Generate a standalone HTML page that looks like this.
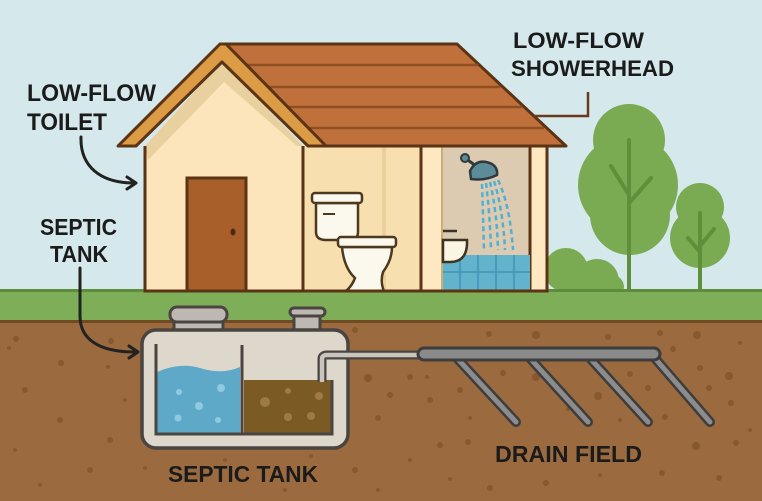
<!DOCTYPE html>
<html><head><meta charset="utf-8"><style>
html,body{margin:0;padding:0;background:#d5e9ec;}
svg{display:block;}
text{font-family:"Liberation Sans",sans-serif;font-weight:bold;fill:#1b1b1b;}
</style></head><body>
<svg width="762" height="501" viewBox="0 0 762 501" xmlns="http://www.w3.org/2000/svg">
<rect x="0" y="0" width="762" height="501" fill="#d5e9ec"/>
<!-- trees -->
<g fill="#7aaa52">
<circle cx="629" cy="140" r="36"/><circle cx="628" cy="185" r="50"/><circle cx="630" cy="215" r="40"/>
<circle cx="700" cy="207" r="24"/><circle cx="700" cy="238" r="30"/>
<circle cx="566" cy="270" r="22"/><circle cx="597" cy="281" r="22"/><circle cx="612" cy="287" r="12"/>
</g>
<g stroke="#5f8f3a" stroke-width="4" stroke-linecap="round" fill="none">
<path d="M629 140 V291 M629 195 L611 166 M629 203 L651 178"/>
<path d="M700 213 V291 M700 252 L688 238 M700 246 L714 229"/>
</g>
<!-- grass & soil -->
<rect x="0" y="290" width="762" height="32" fill="#7eae58"/>
<rect x="0" y="289" width="762" height="3" fill="#5e8c3c"/>
<rect x="0" y="321" width="762" height="180" fill="#9b6b3f"/>
<rect x="0" y="320" width="762" height="3" fill="#6f4a22"/>
<g fill="#86592f">
<circle cx="16" cy="339" r="3"/><circle cx="111" cy="341" r="3"/><circle cx="61" cy="363" r="3"/><circle cx="108" cy="367" r="2"/><circle cx="9" cy="348" r="2"/>
<circle cx="25" cy="390" r="3"/><circle cx="60" cy="420" r="3"/><circle cx="15" cy="450" r="2"/><circle cx="90" cy="470" r="3"/><circle cx="40" cy="485" r="2"/>
<circle cx="125" cy="400" r="2"/><circle cx="110" cy="440" r="3"/><circle cx="145" cy="468" r="2"/><circle cx="355" cy="330" r="3"/><circle cx="368" cy="378" r="4"/>
<circle cx="390" cy="395" r="3"/><circle cx="410" cy="377" r="3"/><circle cx="378" cy="418" r="3"/><circle cx="430" cy="400" r="3"/><circle cx="460" cy="390" r="3"/>
<circle cx="470" cy="418" r="2"/><circle cx="440" cy="445" r="3"/><circle cx="410" cy="460" r="2"/><circle cx="355" cy="470" r="3"/><circle cx="378" cy="490" r="2"/>
<circle cx="336" cy="447" r="3"/><circle cx="311" cy="456" r="2"/><circle cx="489" cy="334" r="3"/><circle cx="536" cy="335" r="4"/><circle cx="608" cy="337" r="3"/>
<circle cx="660" cy="333" r="3"/><circle cx="697" cy="335" r="4"/><circle cx="740" cy="343" r="2"/><circle cx="673" cy="349" r="3"/><circle cx="427" cy="377" r="2"/>
<circle cx="503" cy="373" r="3"/><circle cx="536" cy="377" r="4"/><circle cx="598" cy="396" r="4"/><circle cx="630" cy="374" r="3"/><circle cx="648" cy="388" r="3"/>
<circle cx="700" cy="368" r="3"/><circle cx="729" cy="376" r="4"/><circle cx="709" cy="388" r="3"/><circle cx="731" cy="403" r="3"/><circle cx="665" cy="417" r="3"/>
<circle cx="468" cy="442" r="3"/><circle cx="450" cy="479" r="2"/><circle cx="490" cy="488" r="3"/><circle cx="546" cy="483" r="3"/><circle cx="600" cy="475" r="2"/>
<circle cx="662" cy="473" r="3"/><circle cx="696" cy="446" r="4"/><circle cx="736" cy="443" r="3"/><circle cx="719" cy="478" r="3"/><circle cx="750" cy="430" r="2"/>
<circle cx="568" cy="409" r="2"/><circle cx="620" cy="420" r="2"/><circle cx="225" cy="460" r="2"/><circle cx="285" cy="490" r="2"/>
</g>
<!-- house right section -->
<rect x="303" y="146" width="244" height="145" fill="#f7dfb0"/>
<rect x="382" y="146" width="4" height="145" fill="#ead09c"/>
<rect x="421" y="146" width="22" height="145" fill="#fde8c2"/>
<rect x="443" y="146" width="88" height="145" fill="#dccbb1"/>
<rect x="531" y="146" width="15" height="145" fill="#fde8c2"/>
<rect x="441" y="146" width="2" height="145" fill="#c9ae7c"/>
<g stroke="#5a3415" stroke-width="3" fill="none">
<line x1="421" y1="146" x2="421" y2="291"/><line x1="530" y1="146" x2="530" y2="291"/>
</g>
<!-- tiles -->
<rect x="443" y="255" width="87" height="36" fill="#63b3cd"/>
<g stroke="#3f93b3" stroke-width="1.5">
<line x1="443" y1="272" x2="530" y2="272"/><line x1="460" y1="255" x2="460" y2="291"/><line x1="478" y1="255" x2="478" y2="291"/><line x1="496" y1="255" x2="496" y2="291"/><line x1="514" y1="255" x2="514" y2="291"/>
</g>
<!-- sink -->
<path d="M443 240 H467 Q468 262 450 262 H443 Z" fill="#fbf6e4" stroke="#3e3222" stroke-width="2.5"/>
<path d="M443 231 H457" stroke="#3e3222" stroke-width="2.5"/>
<!-- shower -->
<g stroke="#4fb0d6" stroke-width="2.5" fill="none" stroke-dasharray="5 3.5">
<path d="M482 184 Q483 215 484 250"/><path d="M486 183 Q490 215 491 250"/><path d="M490 182 Q497 212 498 250"/><path d="M494 181 Q503 210 505 250"/><path d="M498 180 Q510 205 513 250"/>
</g>
<line x1="465" y1="158" x2="476" y2="166" stroke="#2f3a3c" stroke-width="3"/>
<circle cx="465" cy="158" r="4" fill="#5c8c99" stroke="#2f3a3c" stroke-width="2"/>
<path d="M470 171 Q477 157 492 164 Q498 168 497 175 Q485 181 471 179 Z" fill="#5c8c99" stroke="#2f3a3c" stroke-width="2.5"/>
<!-- toilet -->
<g fill="#fbf8ee" stroke="#4d3a1e" stroke-width="2.5">
<path d="M316 203 H358 V232 Q358 240 350 240 H326 Q316 240 316 232 Z"/>
<rect x="312" y="193" width="50" height="10" rx="3"/>
<path d="M342 247 Q344 268 355 278 Q352 286 346 291 H384 Q380 282 383 272 Q392 260 392 247 Z"/>
<rect x="338" y="237" width="58" height="10" rx="3"/>
</g>
<line x1="323" y1="214" x2="335" y2="214" stroke="#4d3a1e" stroke-width="2"/>
<!-- roof -->
<path d="M220 44 H457 L566 146 H324 Z" fill="#c0703a" stroke="#5a3415" stroke-width="3" stroke-linejoin="round"/>
<g stroke="#8e4f22" stroke-width="2.5">
<line x1="238" y1="65" x2="478" y2="65"/><line x1="258" y1="87" x2="500" y2="87"/><line x1="280" y1="107" x2="522" y2="107"/><line x1="302" y1="128" x2="544" y2="128"/>
</g>
<!-- gable facade -->
<path d="M145 146 L222 62 L303 146 V291 H145 Z" fill="#fce4bb"/>
<path d="M145 146 L222 62 L303 146 L297 146 L224 82 L148 160 Z" fill="#e8d09f"/>
<!-- door -->
<rect x="187" y="178" width="59" height="113" fill="#a85f2a" stroke="#5a3415" stroke-width="3"/>
<ellipse cx="233" cy="232" rx="2.5" ry="3.5" fill="#4a2a10"/>
<!-- trim -->
<path d="M118 146 L220 44 L226 44 L326 146 L308 146 L222 62 L136 146 Z" fill="#dc9b45" stroke="#5a3415" stroke-width="3" stroke-linejoin="round"/>
<!-- walls outline -->
<g stroke="#5a3415" stroke-width="3" fill="none">
<path d="M145 146 V291 H547 V146"/><line x1="303" y1="146" x2="303" y2="291"/>
</g>
<!-- drain field -->
<g stroke="#3d3d3d" stroke-width="10" stroke-linecap="round">
<line x1="455" y1="356" x2="516" y2="422"/><line x1="528" y1="356" x2="588" y2="422"/><line x1="588" y1="356" x2="648" y2="422"/><line x1="653" y1="356" x2="710" y2="422"/>
</g>
<g stroke="#8c8c8c" stroke-width="5" stroke-linecap="round">
<line x1="455" y1="356" x2="516" y2="422"/><line x1="528" y1="356" x2="588" y2="422"/><line x1="588" y1="356" x2="648" y2="422"/><line x1="653" y1="356" x2="710" y2="422"/>
</g>
<path d="M322 382 V359 Q322 355 327 355 H422" stroke="#4a4540" stroke-width="9" fill="none"/>
<path d="M322 382 V359 Q322 355 327 355 H422" stroke="#c9c5bd" stroke-width="4.5" fill="none"/>
<rect x="418" y="348" width="242" height="12" rx="6" fill="#8a8a8a" stroke="#3d3d3d" stroke-width="3"/>
<!-- septic tank -->
<rect x="174" y="320" width="49" height="13" fill="#bdb8b1" stroke="#4a4540" stroke-width="3"/>
<rect x="170" y="307" width="57" height="15" rx="7" fill="#bdb8b1" stroke="#4a4540" stroke-width="3"/>
<rect x="294" y="314" width="26" height="18" fill="#bdb8b1" stroke="#4a4540" stroke-width="3"/>
<rect x="290" y="308" width="35" height="8" rx="4" fill="#bdb8b1" stroke="#4a4540" stroke-width="3"/>
<rect x="142" y="330" width="206" height="118" rx="14" fill="#ddd7cc" stroke="#4a4540" stroke-width="3.5"/>
<path d="M157 372 Q180 362 200 368 Q222 375 240 367 V434 H157 Z" fill="#5fa9c8"/>
<g fill="#8fcbe0"><circle cx="179" cy="392" r="3"/><circle cx="199" cy="406" r="4"/><circle cx="221" cy="388" r="4"/><circle cx="178" cy="418" r="3.5"/><circle cx="218" cy="420" r="3"/></g>
<rect x="244" y="380" width="87" height="54" fill="#7b5a24"/>
<g fill="#a07a45"><circle cx="265" cy="402" r="5"/><circle cx="288" cy="391" r="3"/><circle cx="319" cy="396" r="4"/><circle cx="288" cy="417" r="4"/><circle cx="311" cy="416" r="4"/></g>
<g stroke="#4a4540" stroke-width="3" fill="none">
<path d="M156 344 V434 H332 V380"/><line x1="242" y1="345" x2="242" y2="434"/>
</g>
<path d="M322 382 V359 Q322 355 327 355 H348" stroke="#4a4540" stroke-width="9" fill="none"/>
<path d="M322 382 V359 Q322 355 327 355 H350" stroke="#c9c5bd" stroke-width="4.5" fill="none"/>
<!-- leader lines -->
<path d="M588 92 V116 H534" stroke="#6b3a1e" stroke-width="2.5" fill="none"/>
<g stroke="#222" stroke-width="3" fill="none" stroke-linecap="round" stroke-linejoin="round">
<path d="M81 137 C80 166 100 183 134 183"/><path d="M127 177 L136 183 L127 189"/>
<path d="M80 268 V316 C80 340 100 352 135 352"/><path d="M129 346 L138 352 L129 358"/>
</g>
<!-- labels -->
<text x="27" y="101" font-size="24" textLength="129" lengthAdjust="spacingAndGlyphs">LOW-FLOW</text>
<text x="27" y="130" font-size="24" textLength="80" lengthAdjust="spacingAndGlyphs">TOILET</text>
<text x="40" y="235" font-size="23" textLength="77" lengthAdjust="spacingAndGlyphs">SEPTIC</text>
<text x="50" y="262" font-size="23" textLength="58" lengthAdjust="spacingAndGlyphs">TANK</text>
<text x="513" y="48" font-size="22" textLength="131" lengthAdjust="spacingAndGlyphs">LOW-FLOW</text>
<text x="511" y="76" font-size="22" textLength="163" lengthAdjust="spacingAndGlyphs">SHOWERHEAD</text>
<text x="168" y="482" font-size="23" textLength="150" lengthAdjust="spacingAndGlyphs">SEPTIC TANK</text>
<text x="495" y="462" font-size="23" textLength="147" lengthAdjust="spacingAndGlyphs">DRAIN FIELD</text>
</svg>
</body></html>
